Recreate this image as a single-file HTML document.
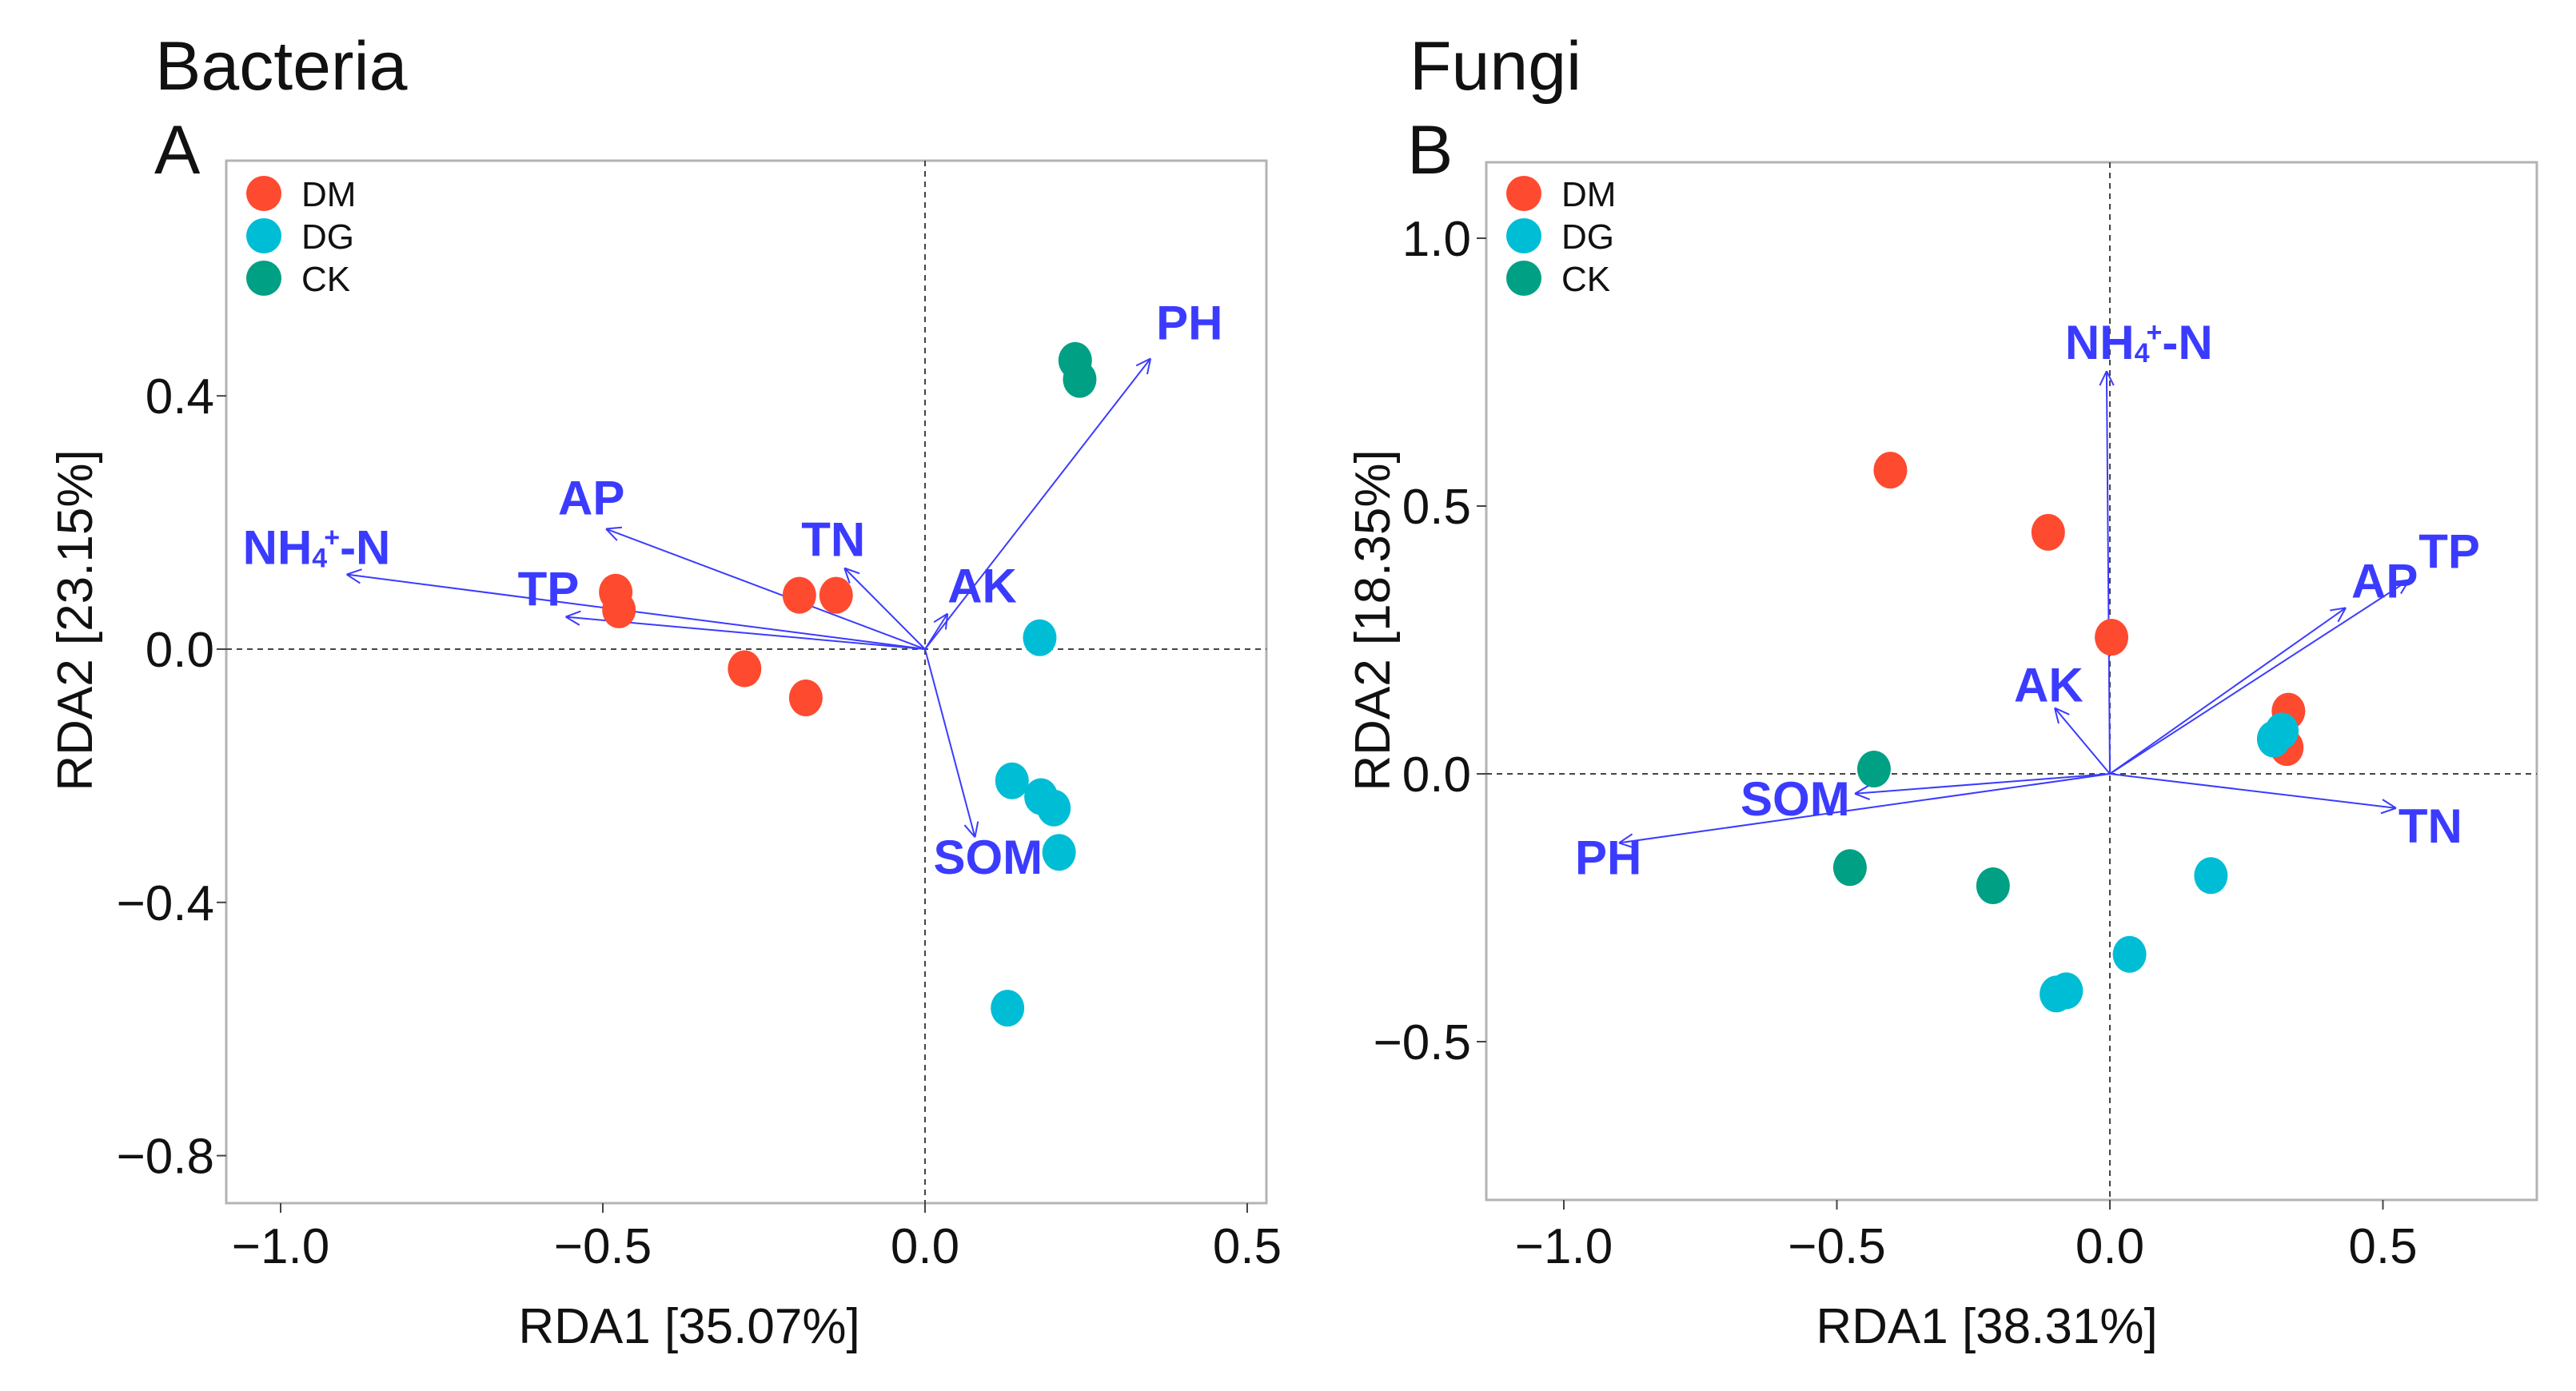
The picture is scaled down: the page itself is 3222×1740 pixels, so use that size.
<!DOCTYPE html>
<html><head><meta charset="utf-8">
<style>
html,body{margin:0;padding:0;background:#fff;}
svg{display:block;font-family:"Liberation Sans",Arial,sans-serif;}
</style></head>
<body>
<svg id="chart" width="3222" height="1740" viewBox="0 0 3222 1740" xmlns="http://www.w3.org/2000/svg">
<rect x="0" y="0" width="3222" height="1740" fill="#fff"/>
</svg>
<script>
// ---------- Panel A (Bacteria) data ----------
const aDM_x = [-0.48, -0.475, -0.195, -0.138, -0.28, -0.185];
const aDM_y = [0.090, 0.062, 0.085, 0.085, -0.031, -0.077];
const aDG_x = [0.178, 0.135, 0.18, 0.20, 0.208, 0.128];
const aDG_y = [0.018, -0.208, -0.233, -0.251, -0.321, -0.567];
const aCK_x = [0.233, 0.24];
const aCK_y = [0.456, 0.426];
const aEnvNames = ["PH", "NH4-N", "AP", "TP", "TN", "AK", "SOM"];
const aEnvX = [0.35, -0.8975, -0.495, -0.5575, -0.125, 0.035, 0.0775];
const aEnvY = [0.459, 0.118, 0.19, 0.051, 0.128, 0.056, -0.297];
const aXTicks = [-1.0, -0.5, 0.0, 0.5];
const aXTickLabels = ["\u22121.0", "\u22120.5", "0.0", "0.5"];
const aYTicks = [0.4, 0.0, -0.4, -0.8];
const aYTickLabels = ["0.4", "0.0", "\u22120.4", "\u22120.8"];

// ---------- Panel B (Fungi) data ----------
const bDM_x = [-0.402, -0.113, 0.003, 0.327, 0.324];
const bDM_y = [0.567, 0.451, 0.255, 0.117, 0.049];
const bDG_x = [0.30, 0.315, 0.185, 0.036, -0.098, -0.08];
const bDG_y = [0.065, 0.08, -0.19, -0.337, -0.411, -0.405];
const bCK_x = [-0.432, -0.476, -0.214];
const bCK_y = [0.009, -0.175, -0.209];
const bEnvNames = ["NH4-N", "AP", "TP", "TN", "AK", "SOM", "PH"];
const bEnvX = [-0.006, 0.432, 0.548, 0.524, -0.101, -0.467, -0.899];
const bEnvY = [0.752, 0.310, 0.362, -0.064, 0.123, -0.037, -0.129];
const bXTicks = [-1.0, -0.5, 0.0, 0.5];
const bXTickLabels = ["\u22121.0", "\u22120.5", "0.0", "0.5"];
const bYTicks = [1.0, 0.5, 0.0, -0.5];
const bYTickLabels = ["1.0", "0.5", "0.0", "\u22120.5"];

const NS = "http://www.w3.org/2000/svg";
const svg = document.getElementById("chart");
const COL = {DM: "#FE4A2F", DG: "#00BDD6", CK: "#00A084"};
const ARROW = "#3B3BFF";

function mk(tag, attrs, parent) {
  const e = document.createElementNS(NS, tag);
  for (const k in attrs) e.setAttribute(k, attrs[k]);
  (parent || svg).appendChild(e);
  return e;
}

function panel(cfg) {
  const g = mk("g", {});
  
  
  const sx = v => cfg.x0 + v * cfg.kx;
  const sy = v => cfg.y0 - v * cfg.ky;

  // frame
  const fr = mk("rect", {x: cfg.L, y: cfg.T, width: cfg.R - cfg.L, height: cfg.B - cfg.T, fill: "none", stroke: "#b3b3b3", "stroke-width": 3}, g);
  
  

  // zero lines
  const hz = mk("line", {x1: cfg.L, x2: cfg.R, y1: sy(0), y2: sy(0), stroke: "#444", "stroke-width": 2, "stroke-dasharray": "7,6"}, g);
  
  
  const vz = mk("line", {x1: sx(0), x2: sx(0), y1: cfg.T, y2: cfg.B + 12, stroke: "#444", "stroke-width": 2, "stroke-dasharray": "7,6"}, g);
  
  

  // x ticks
  cfg.xt.forEach((v, i) => {
    const t = mk("line", {x1: sx(v), x2: sx(v), y1: cfg.B, y2: cfg.B + 12, stroke: "#444", "stroke-width": 2}, g);
    
    
    const tx = mk("text", {x: sx(v), y: 1580, "text-anchor": "middle", "font-size": 62, fill: "#111"}, g);
    tx.textContent = cfg.xtl[i];
    
    
  });
  // y ticks
  cfg.yt.forEach((v, i) => {
    const t = mk("line", {x1: cfg.L - 12, x2: cfg.L, y1: sy(v), y2: sy(v), stroke: "#444", "stroke-width": 2}, g);
    
    
    const tx = mk("text", {x: cfg.ylabRight, y: sy(v) + 22, "text-anchor": "end", "font-size": 62, fill: "#111"}, g);
    tx.textContent = cfg.ytl[i];
    
    
  });

  // axis titles
  const xt = mk("text", {x: cfg.xTitleX, y: 1680, "text-anchor": "middle", "font-size": 62, fill: "#111"}, g);
  xt.textContent = cfg.xTitle;
  
  
  const yt = mk("text", {x: 0, y: 0, "text-anchor": "middle", "font-size": 62, fill: "#111", transform: "translate(" + cfg.yTitleX + ",776) rotate(-90)"}, g);
  yt.textContent = cfg.yTitle;
  
  

  // panel titles
  const pt = mk("text", {x: cfg.titleX, y: 112, "font-size": 86, fill: "#111"}, g);
  pt.textContent = cfg.title;
  
  
  const pl = mk("text", {x: cfg.letterX, y: 217, "font-size": 86, fill: "#111"}, g);
  pl.textContent = cfg.letter;
  
  

  // arrows
  cfg.env.forEach((nm, i) => {
    const x2 = sx(cfg.ex[i]), y2 = sy(cfg.ey[i]), x1 = sx(0), y1 = sy(0);
    const ln = mk("line", {x1: x1, y1: y1, x2: x2, y2: y2, stroke: ARROW, "stroke-width": 2}, g);
    
    
    const ang = Math.atan2(y2 - y1, x2 - x1);
    [0.45, -0.45].forEach(d => {
      const h = mk("line", {x1: x2, y1: y2, x2: x2 - 20 * Math.cos(ang + d), y2: y2 - 20 * Math.sin(ang + d), stroke: ARROW, "stroke-width": 2}, g);
      
      
    });
    const off = cfg.labOff[i];
    const t = mk("text", {x: x2 + off[0], y: y2 + off[1], "font-size": 60, "font-weight": "bold", fill: ARROW}, g);
    
    
    if (nm === "NH4-N") {
      const a = mk("tspan", {}, t); a.textContent = "NH";
      const b = mk("tspan", {"font-size": 34, dy: 4}, t); b.textContent = "4";
      const c = mk("tspan", {"font-size": 34, dy: -26, dx: -4}, t); c.textContent = "+";
      const d = mk("tspan", {dy: 22}, t); d.textContent = "-N";
    } else {
      t.textContent = nm;
    }
  });

  // points
  const groups = [["DM", cfg.dmx, cfg.dmy], ["DG", cfg.dgx, cfg.dgy], ["CK", cfg.ckx, cfg.cky]];
  groups.forEach(([k, xs, ys]) => {
    xs.forEach((v, i) => {
      const c = mk("ellipse", {cx: sx(v), cy: sy(ys[i]), rx: 21, ry: 23, fill: COL[k]}, g);
      
      
    });
  });

  // legend
  ["DM", "DG", "CK"].forEach((k, i) => {
    const cy = 242 + i * 53;
    const c = mk("circle", {cx: cfg.L + 47, cy: cy, r: 22, fill: COL[k]}, g);
    
    
    const t = mk("text", {x: cfg.L + 94, y: cy + 16, "font-size": 44, fill: "#111"}, g);
    t.textContent = k;
    
    
  });
}

panel({
  name: "bacteria-panel", L: 283, T: 201, R: 1584, B: 1505,
  x0: 1157, kx: 806, y0: 812, ky: 792,
  xt: aXTicks, xtl: aXTickLabels, yt: aYTicks, ytl: aYTickLabels, ylabRight: 268,
  xTitle: "RDA1 [35.07%]", xTitleX: 862, yTitle: "RDA2 [23.15%]", yTitleX: 115,
  title: "Bacteria", titleX: 194, letter: "A", letterX: 193,
  env: aEnvNames, ex: aEnvX, ey: aEnvY,
  labOff: [[7, -24], [-130, -13], [-60, -18], [-60, -14], [-54, -15], [0, -14], [-52, 46]],
  dmx: aDM_x, dmy: aDM_y, dgx: aDG_x, dgy: aDG_y, ckx: aCK_x, cky: aCK_y
});
panel({
  name: "fungi-panel", L: 1859, T: 203, R: 3173, B: 1501,
  x0: 2639, kx: 683, y0: 968, ky: 670,
  xt: bXTicks, xtl: bXTickLabels, yt: bYTicks, ytl: bYTickLabels, ylabRight: 1840,
  xTitle: "RDA1 [38.31%]", xTitleX: 2485, yTitle: "RDA2 [18.35%]", yTitleX: 1738,
  title: "Fungi", titleX: 1763, letter: "B", letterX: 1760,
  env: bEnvNames, ex: bEnvX, ey: bEnvY,
  labOff: [[-52, -15], [7, -13], [12, -15], [3, 43], [-51, -8], [-143, 27], [-55, 39]],
  dmx: bDM_x, dmy: bDM_y, dgx: bDG_x, dgy: bDG_y, ckx: bCK_x, cky: bCK_y
});
</script>
</body></html>
